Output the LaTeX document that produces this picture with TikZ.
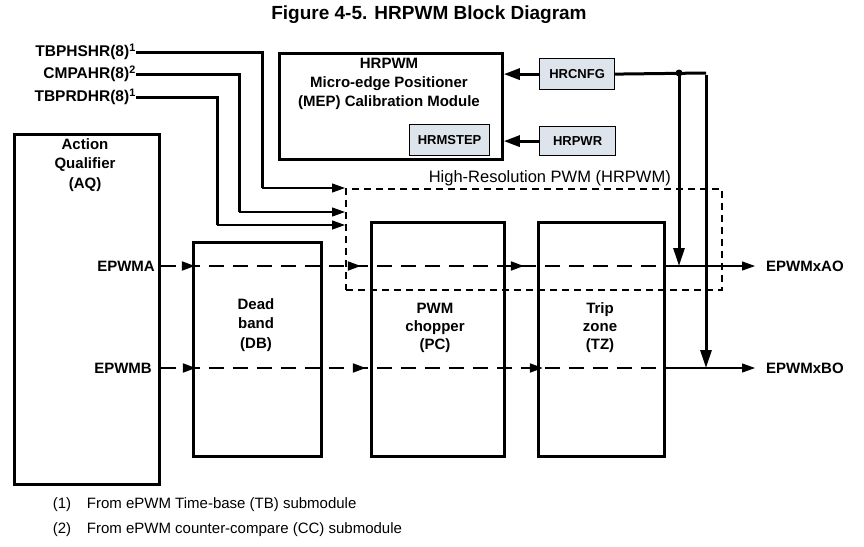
\documentclass[tikz,border=0pt]{standalone}
\usepackage{fontspec}
\setmainfont{Liberation Sans}
\usepackage{tikz}
\usetikzlibrary{positioning, arrows.meta, decorations.markings}

\definecolor{regfill}{RGB}{221,228,236}

\begin{document}
\begin{tikzpicture}[
  x=1pt, y=-1pt,
  lbl/.style={font=\fontsize{15}{19.5}\selectfont\bfseries, inner sep=0pt,
    align=center},
  note/.style={font=\fontsize{15}{18}\selectfont, inner sep=0pt, anchor=west},
  blk/.style={draw, line width=2.8pt, anchor=north west, inner sep=0pt},
  reg/.style={draw, line width=1.2pt, fill=regfill, anchor=north west,
    inner sep=0pt, font=\fontsize{13}{15}\selectfont\bfseries},
  busline/.style={draw, line width=3pt},
  busarr/.style={busline, -{Triangle[length=16pt,width=11pt]}},
  busdown/.style={busline, -{Triangle[length=18pt,width=11pt]}},
  sig/.style={line width=1.2pt, -{Triangle[length=13pt,width=9pt]}},
  dsig/.style={line width=2pt, dash pattern=on 15pt off 9pt},
  tips/.style={postaction={decorate, decoration={markings,
    mark=at position #1 with {\arrow{Triangle[length=13pt,width=9pt]}}}}},
]
  \useasboundingbox (0,0) rectangle (864,546);

  % Title
  \node[font=\fontsize{19}{22}\selectfont\bfseries] (title) at (429,15)
    {Figure 4-5. HRPWM Block Diagram};

  % Main blocks
  \node[blk, minimum width=144.7, minimum height=350] (aq) at (13.3,133.3) {};
  \node[blk, minimum width=128, minimum height=214] (db) at (192,241) {};
  \node[blk, minimum width=133, minimum height=234] (pc) at (370,221) {};
  \node[blk, minimum width=126, minimum height=234] (tz) at (537,221) {};
  \node[blk, minimum width=223, minimum height=106] (mep) at (278,52) {};

  \node[lbl] (aqtxt) at (85,165) {Action\\Qualifier\\(AQ)};
  \node[lbl] (dbtxt) at (256,325) {Dead\\band\\(DB)};
  \node[lbl, font=\fontsize{15}{18}\selectfont\bfseries] (pctxt) at (435,328)
    {PWM\\chopper\\(PC)};
  \node[lbl, font=\fontsize{15}{18}\selectfont\bfseries] (tztxt) at (600,328)
    {Trip\\zone\\(TZ)};
  \node[lbl, font=\fontsize{15}{19}\selectfont\bfseries] (meptxt) at (389,84)
    {HRPWM\\Micro-edge Positioner\\(MEP) Calibration Module};

  % Register boxes
  \node[reg, minimum width=80, minimum height=31] (hrmstep) at (409,124) {HRMSTEP};
  \node[reg, minimum width=75, minimum height=31] (hrcnfg) at (539,58) {HRCNFG};
  \node[reg, minimum width=76, minimum height=29] (hrpwr) at (539,126) {HRPWR};

  % High-resolution PWM region
  \node[draw, line width=1.8pt, dash pattern=on 7pt off 5pt, anchor=north west,
    inner sep=0pt, minimum width=376, minimum height=101] (hr) at (345,188) {};
  \node[font=\fontsize{16.5}{18}\selectfont, inner sep=0pt, anchor=base east]
    (hrtxt) at (671,182) {High-Resolution PWM (HRPWM)};

  % Register inputs
  \node[lbl, font=\fontsize{15.5}{19}\selectfont\bfseries, anchor=east]
    (tbphshr) at (136,52) {TBPHSHR(8)\textsuperscript{1}};
  \node[lbl, font=\fontsize{15.5}{19}\selectfont\bfseries, anchor=east]
    (cmpahr) at (136,74) {CMPAHR(8)\textsuperscript{2}};
  \node[lbl, font=\fontsize{15.5}{19}\selectfont\bfseries, anchor=east]
    (tbprdhr) at (136,97) {TBPRDHR(8)\textsuperscript{1}};
  \coordinate (kph) at (262,188);
  \coordinate (kcmp) at (239,212);
  \coordinate (kprd) at (217,225);
  \draw[busline] (tbphshr.east) -| (kph);
  \draw[busline] (cmpahr.east) -| (kcmp);
  \draw[busline] (tbprdhr.east) -| (kprd);
  \draw[sig] (kph) -- (hr.north west);
  \draw[sig] (kcmp) -- (hr.west |- kcmp);
  \draw[sig] (kprd) -- (hr.west |- kprd);

  % PWM signal paths
  \coordinate (ya) at (0,266);
  \coordinate (yb) at (0,368);
  \node[lbl, anchor=east] (epwma) at (155,266) {EPWMA};
  \node[lbl, anchor=east] (epwmb) at (152,368) {EPWMB};
  \node[lbl, anchor=west] (outa) at (766,266) {EPWMxAO};
  \node[lbl, anchor=west] (outb) at (766,368) {EPWMxBO};

  \draw[dsig, tips=34pt, tips=200pt, tips=363pt] (aq.east |- ya) -- (tz.east |- ya);
  \draw[dsig, tips=35pt, tips=205pt, tips=382pt] (aq.east |- yb) -- (tz.east |- yb);
  \draw[sig] (tz.east |- ya) -- ([xshift=-11pt]outa.west);
  \draw[sig] (tz.east |- yb) -- ([xshift=-11pt]outb.west);

  % Configuration wiring
  \coordinate (jn) at (679,73);
  \coordinate (kr) at (706,73);
  \draw[busarr] (hrcnfg.west) -- (mep.east |- hrcnfg.west);
  \draw[busarr] (hrpwr.west) -- (mep.east |- hrpwr.west);
  \draw[busline] (hrcnfg.east) -- (kr);
  \draw[busdown] (jn) -- (jn |- ya);
  \draw[busdown] ([yshift=-1.5pt]kr) -- (kr |- yb);
  \fill (jn) circle (3.5);

  % Footnotes
  \node[note] (fn1n) at (52.7,505) {(1)};
  \node[note] (fn1) at (86.7,505) {From ePWM Time-base (TB) submodule};
  \node[note] (fn2n) at (52.7,530) {(2)};
  \node[note] (fn2) at (86.7,530) {From ePWM counter-compare (CC) submodule};
\end{tikzpicture}
\end{document}
